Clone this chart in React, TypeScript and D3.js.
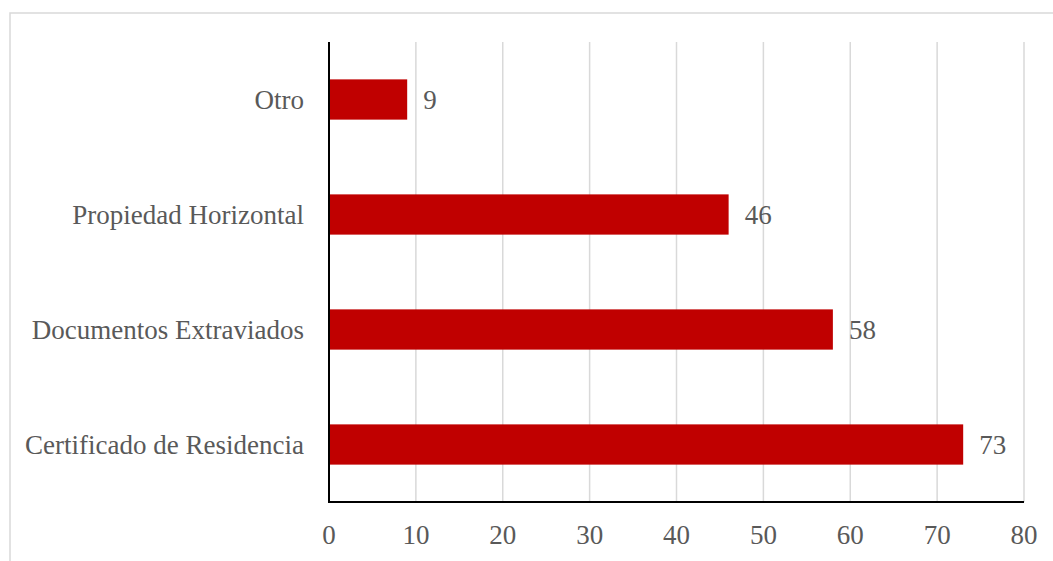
import { useEffect, useRef } from 'react'
import * as d3 from 'd3'

const categories = ['Otro', 'Propiedad Horizontal', 'Documentos Extraviados', 'Certificado de Residencia']
const values = [9, 46, 58, 73]
const xTicks = [0, 10, 20, 30, 40, 50, 60, 70, 80]

const W = 1053
const H = 561
const FONT = '"Liberation Serif", "Times New Roman", serif'
const TEXT = '#595959'
const BAR = '#c00000'

export default function App() {
  const svgRef = useRef<SVGSVGElement>(null)

  useEffect(() => {
    if (!svgRef.current) return
    const svg = d3.select(svgRef.current)
    svg.selectAll('*').remove()

    const margin = { top: 42, right: 29, bottom: 59, left: 329 }

    const x = d3.scaleLinear()
      .domain([0, 80])
      .range([margin.left, W - margin.right])

    const y = d3.scaleBand()
      .domain(categories)
      .range([margin.top, H - margin.bottom])
      .paddingInner(0.65)
      .paddingOuter(0.325)

    // outer frame (runs off the right and bottom edges)
    svg.append('rect')
      .attr('x', 10).attr('y', 13)
      .attr('width', W).attr('height', H)
      .attr('fill', 'none')
      .attr('stroke', '#d9d9d9')
      .attr('stroke-width', 1.5)

    const g = svg.append('g')

    // Gridlines
    g.selectAll('line.grid')
      .data(xTicks.filter(t => t > 0))
      .join('line')
      .attr('class', 'grid')
      .attr('x1', d => x(d)).attr('x2', d => x(d))
      .attr('y1', margin.top).attr('y2', H - margin.bottom)
      .attr('stroke', '#d9d9d9')
      .attr('stroke-width', 1.5)

    // Bars
    categories.forEach((c, i) => {
      const v = values[i]
      g.append('rect')
        .attr('x', x(0))
        .attr('y', y(c)!)
        .attr('width', x(v) - x(0))
        .attr('height', y.bandwidth())
        .attr('fill', BAR)

      g.append('text')
        .attr('x', x(v) + 16)
        .attr('y', y(c)! + y.bandwidth() / 2)
        .attr('dy', '0.35em')
        .attr('fill', TEXT)
        .attr('font-size', '27px')
        .attr('font-family', FONT)
        .text(v)

      g.append('text')
        .attr('x', margin.left - 25)
        .attr('y', y(c)! + y.bandwidth() / 2)
        .attr('dy', '0.35em')
        .attr('text-anchor', 'end')
        .attr('fill', TEXT)
        .attr('font-size', '27px')
        .attr('font-family', FONT)
        .text(c)
    })

    // Axes lines
    g.append('line')
      .attr('x1', x(0)).attr('x2', x(0))
      .attr('y1', margin.top).attr('y2', H - margin.bottom + 1)
      .attr('stroke', '#000').attr('stroke-width', 2)
    g.append('line')
      .attr('x1', x(0) - 1).attr('x2', x(80))
      .attr('y1', H - margin.bottom).attr('y2', H - margin.bottom)
      .attr('stroke', '#000').attr('stroke-width', 2)

    // X tick labels
    g.selectAll('text.tick')
      .data(xTicks)
      .join('text')
      .attr('class', 'tick')
      .attr('x', d => x(d))
      .attr('y', 535)
      .attr('dy', '0.35em')
      .attr('text-anchor', 'middle')
      .attr('fill', TEXT)
      .attr('font-size', '27px')
      .attr('font-family', FONT)
      .text(d => d)
  }, [])

  return (
    <svg
      ref={svgRef}
      width={W}
      height={H}
      style={{ position: 'fixed', left: 0, top: 0, background: '#fff' }}
    />
  )
}
